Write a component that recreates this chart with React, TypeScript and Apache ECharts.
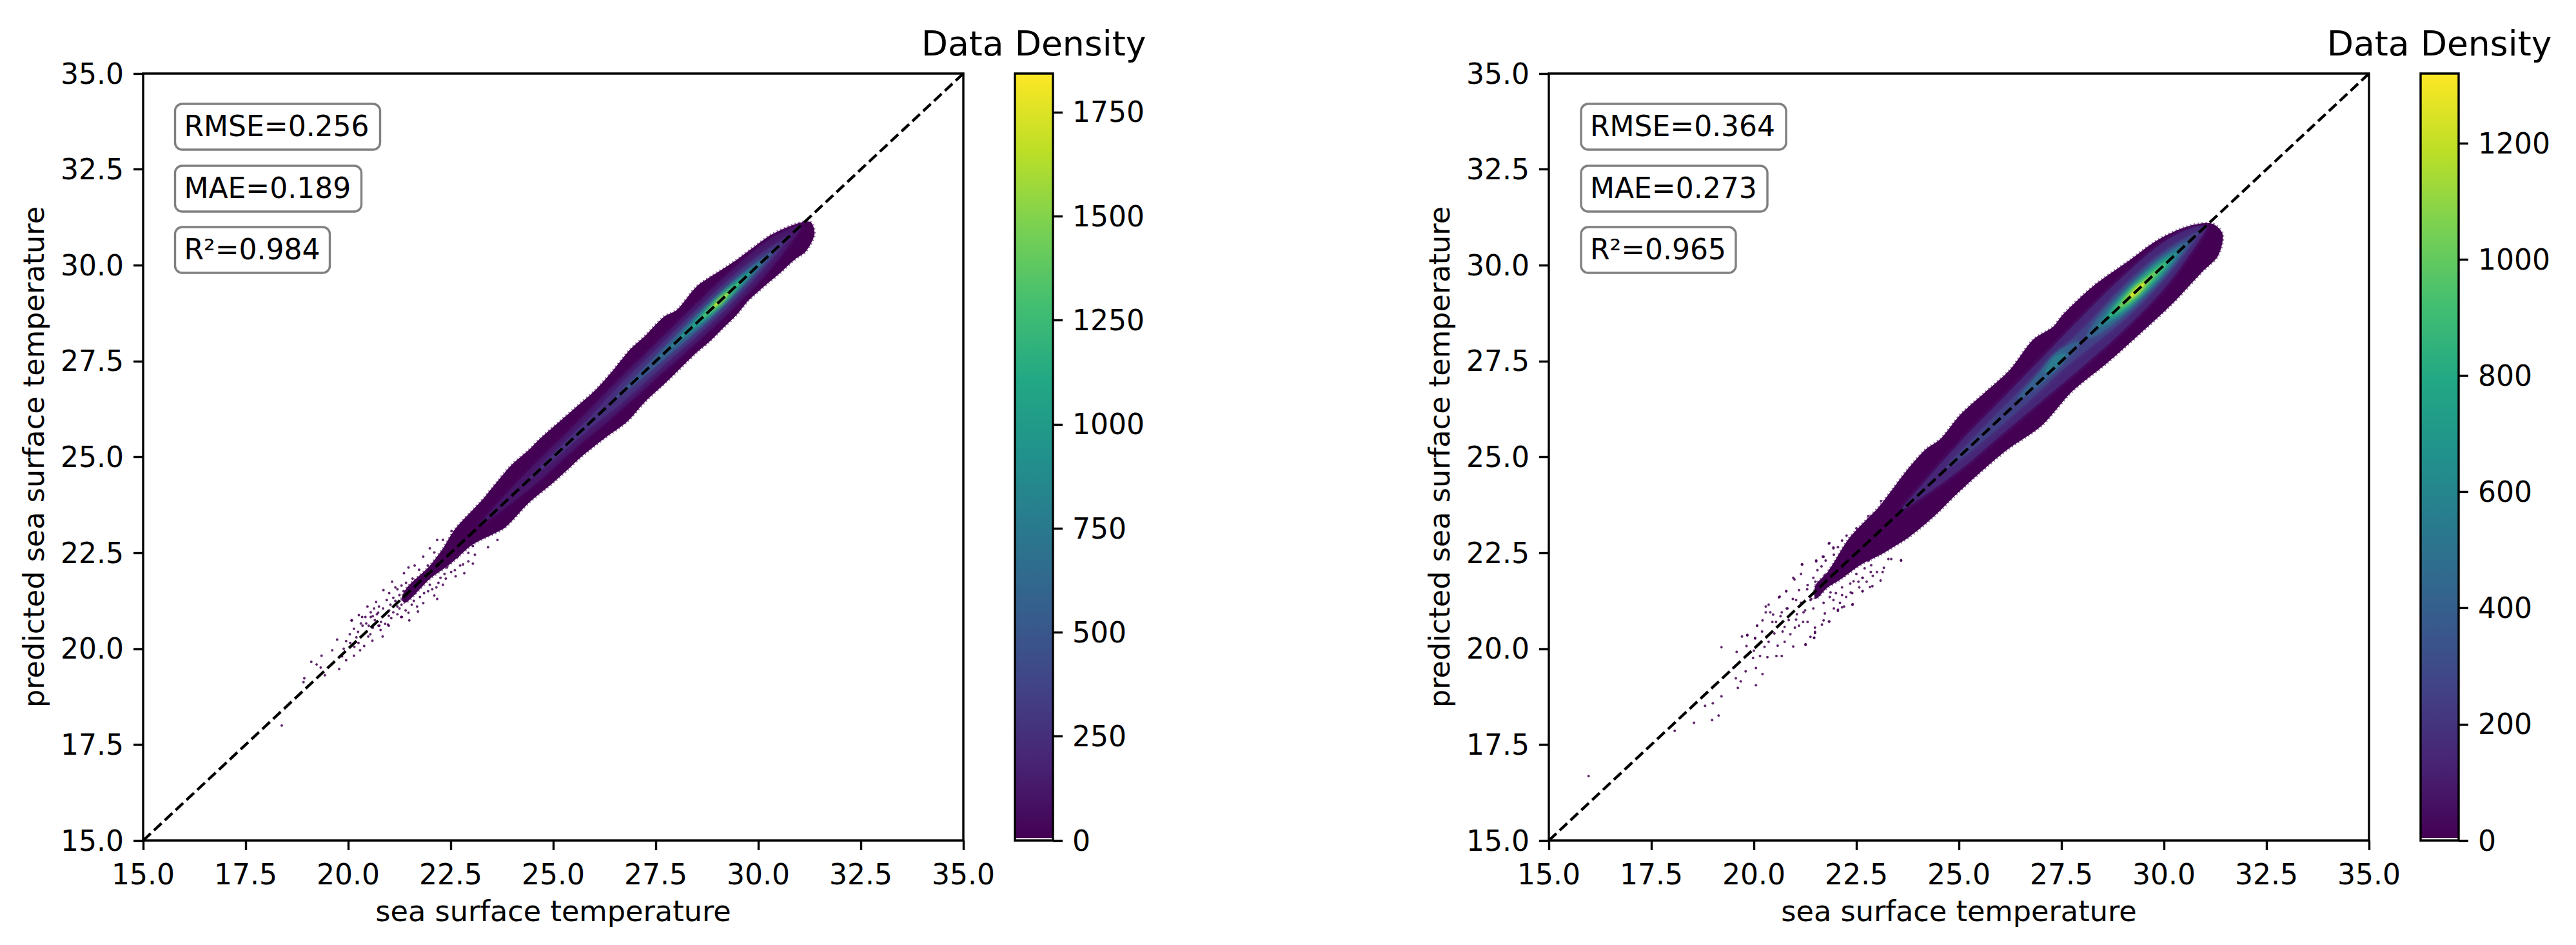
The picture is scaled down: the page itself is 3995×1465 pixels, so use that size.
import React, { useEffect, useRef } from "react";
import * as echarts from "echarts";

const FONT = "DejaVu Sans";
const axisMin = 15;
const axisMax = 35;
const axisStep = 2.5;
const xName = "sea surface temperature";
const yName = "predicted sea surface temperature";
const cbarName = "Data Density";
const leftStats = ["RMSE=0.256", "MAE=0.189", "R²=0.984"];
const rightStats = ["RMSE=0.364", "MAE=0.273", "R²=0.965"];
const leftCbarTicks = [0, 250, 500, 750, 1000, 1250, 1500, 1750];
const rightCbarTicks = [0, 200, 400, 600, 800, 1000, 1200];
const leftCbarMax = 1843;
const rightCbarMax = 1320;
const viridis = ["#440154", "#482475", "#414487", "#355f8d", "#2a788e", "#21918c", "#22a884", "#44bf70", "#7ad151", "#bddf26", "#fde725"];
const diagonal = [[15, 15], [35, 35]];

// outline of the region holding any data, left panel [x, y]
const leftEnvelope = [[21.3,21.3],[21.45,21.62],[21.95,22.12],[22.3,22.6],[22.62,23.14],[23.25,23.86],[23.62,24.34],[23.98,24.79],[24.4,25.18],[24.72,25.52],[25.19,25.96],[25.5,26.25],[26.03,26.75],[26.45,27.25],[26.87,27.8],[27.23,28.15],[27.7,28.66],[28.02,28.84],[28.49,29.44],[28.91,29.75],[29.43,30.11],[29.96,30.53],[30.32,30.8],[30.9,31.07],[31.27,31.13],[31.37,30.81],[31.16,30.36],[30.9,30.16],[30.53,29.8],[30.22,29.52],[29.75,29.07],[29.49,28.73],[29.12,28.34],[28.8,28.0],[28.49,27.72],[27.85,27.05],[27.23,26.43],[26.81,25.93],[26.24,25.48],[25.71,25.03],[25.35,24.67],[25.03,24.36],[24.4,23.8],[23.98,23.32],[23.77,23.12],[23.04,22.72],[22.5,22.22],[21.99,21.82],[21.7,21.5],[21.4,21.2]];
const rightEnvelope = [[21.5,21.65],[21.8,22.0],[22.3,22.85],[22.73,23.35],[23.04,23.69],[23.36,24.13],[23.72,24.64],[24.19,25.2],[24.56,25.48],[25.03,26.1],[25.61,26.66],[26.24,27.27],[26.81,28.06],[27.29,28.39],[27.55,28.73],[28.28,29.46],[29.12,30.1],[29.85,30.66],[30.54,31.0],[31.16,31.09],[31.43,30.81],[31.32,30.25],[30.95,29.85],[30.17,28.96],[29.43,28.23],[28.6,27.44],[27.76,26.71],[27.02,25.82],[26.19,25.2],[25.45,24.53],[24.93,24.02],[24.4,23.46],[23.77,22.9],[23.35,22.62],[23.09,22.45],[22.62,22.2],[22.1,21.8],[21.8,21.6],[21.5,21.3]];

// density contours: level, then rows of [x, lower y, upper y]
const leftLevels = [120, 250, 500, 750, 1000, 1250, 1500, 1750];
const leftContours = [
  [[23.2,23.2,23.25],[24.5,24.25,24.75],[25.5,25.2,25.8],[26.5,26.1,26.9],[27.5,27.05,27.95],[28.5,28.0,29.0],[29.5,29.0,30.0],[30.3,29.92,30.68],[30.9,30.75,31.0],[31.05,31.0,31.02]],
  [[24.4,24.4,24.42],[25,24.92,25.08],[26,25.85,26.15],[26.6,26.35,26.85],[27.5,27.2,27.8],[28.5,28.15,28.85],[29.3,28.95,29.65],[30,29.75,30.25],[30.6,30.52,30.68],[30.8,30.8,30.82]],
  [[26.5,26.5,26.52],[27,26.92,27.08],[27.7,27.55,27.85],[28.5,28.28,28.72],[29.2,28.98,29.42],[29.8,29.65,29.95],[30.3,30.25,30.35],[30.5,30.5,30.52]],
  [[27.5,27.5,27.52],[28.2,28.12,28.28],[28.8,28.66,28.94],[29.3,29.16,29.44],[29.8,29.72,29.88],[30.2,30.2,30.22]],
  [[28.1,28.1,28.12],[28.7,28.61,28.79],[29.1,29.0,29.2],[29.5,29.42,29.58],[29.9,29.9,29.92]],
  [[28.5,28.5,28.52],[28.85,28.78,28.92],[29.2,29.13,29.27],[29.6,29.6,29.62]],
  [[28.75,28.75,28.77],[29.05,29.0,29.1],[29.4,29.4,29.42]],
  [[28.95,28.95,28.97],[29.08,29.05,29.11],[29.2,29.2,29.22]],
];
const rightLevels = [150, 250, 400, 400, 550, 550, 700, 850, 1000, 1150, 1280];
const rightContours = [
  [[23.6,23.6,23.65],[25,24.65,25.35],[26,25.55,26.45],[27,26.45,27.55],[28,27.35,28.65],[29,28.3,29.7],[30,29.4,30.6],[30.7,30.4,30.98],[31.05,30.98,31.02]],
  [[24.7,24.7,24.75],[25.2,25.08,25.32],[26,25.8,26.2],[26.8,26.55,27.05],[27.5,27.25,27.8],[28.3,27.95,28.65],[29,28.55,29.45],[29.8,29.4,30.2],[30.5,30.3,30.7],[30.9,30.9,30.92]],
  [[26.45,26.5,26.55],[26.9,26.82,27.12],[27.35,27.25,27.7],[27.75,27.72,27.95],[27.95,27.98,28.02]],
  [[28.1,28.08,28.14],[28.4,28.2,28.65],[29,28.68,29.32],[29.8,29.5,30.1],[30.3,30.12,30.48],[30.65,30.65,30.67]],
  [[27.1,27.2,27.24],[27.35,27.33,27.62],[27.6,27.66,27.7]],
  [[28.3,28.3,28.32],[28.8,28.6,29.0],[29.3,29.03,29.57],[29.9,29.68,30.12],[30.5,30.5,30.52]],
  [[28.5,28.5,28.52],[29,28.82,29.18],[29.4,29.2,29.6],[29.9,29.75,30.05],[30.3,30.3,30.32]],
  [[28.65,28.65,28.67],[29.1,28.95,29.25],[29.4,29.25,29.55],[29.85,29.75,29.95],[30.2,30.2,30.22]],
  [[28.8,28.8,28.82],[29.2,29.09,29.31],[29.5,29.39,29.61],[30,30,30.02]],
  [[29,29,29.02],[29.3,29.22,29.38],[29.6,29.6,29.62]],
  [[29.2,29.2,29.22],[29.35,29.31,29.39],[29.5,29.5,29.52]],
];

// isolated points
const leftOutliers = [[18.38,18.0],[18.91,19.13],[18.93,19.23],[19.1,19.66],[19.23,19.59],[19.35,19.82],[19.43,19.31],[19.33,19.51],[19.61,19.96],[19.78,19.47],[19.89,20.0],[20.14,19.82],[20.29,19.96],[20.39,20.07],[20.04,20.38],[19.73,20.24],[20.09,20.74],[20.14,20.52],[20.59,20.21],[20.84,20.32],[20.99,20.6],[21.49,20.74],[20.99,20.86],[21.29,20.83],[20.24,20.44],[20.44,20.66],[20.34,20.83],[20.74,20.6],[20.54,20.38],[20.49,20.32],[20.08,20.74],[20.26,20.88],[20.47,21.1],[20.68,21.22],[20.86,21.53],[21.07,21.75],[21.36,21.97],[21.47,22.12],[21.62,22.17],[21.83,22.4],[21.99,22.62],[22.17,22.84],[21.7,20.97],[21.68,21.1],[22.17,21.3],[22.1,21.39],[21.83,21.19],[21.47,20.94],[21.31,20.83],[20.97,20.63],[20.79,20.49],[20.76,20.6],[22.83,21.97],[22.62,21.89],[22.31,21.67],[22.2,21.72],[23.04,22.22],[22.93,22.28],[23.64,22.84],[23.41,22.65],[23.09,22.45],[22.51,22.0],[22.38,21.83],[22.41,22.12],[22.73,22.17],[23.04,22.68],[23.25,22.9],[23.35,23.01],[23.51,23.01],[22.93,22.5],[22.67,22.4],[22.46,22.28],[21.2,21.55],[20.94,21.27],[20.63,21.05],[20.42,20.83],[20.31,20.66],[20.55,20.83],[20.73,20.94],[21.1,21.33],[21.41,21.72],[21.57,21.83],[21.73,22.06],[21.94,22.17],[22.1,22.51],[22.31,22.84],[22.52,23.07],[21.83,21.78],[21.99,21.67],[21.62,21.44],[21.36,21.27],[21.2,21.1],[20.89,20.88],[20.6,20.55],[20.65,20.75],[20.7,20.9],[20.8,20.7],[20.85,21.05],[20.9,20.65],[21.0,21.0],[21.03,21.15],[21.05,20.8],[21.1,20.95],[21.15,21.25],[21.2,20.9],[21.25,21.4],[21.25,21.05],[21.3,21.15],[21.35,21.5],[21.4,21.0],[21.45,21.3],[20.5,20.6],[20.55,20.95],[20.45,20.45],[20.35,20.6],[20.2,20.3],[20.25,20.15],[20.15,20.05],[20.05,20.15],[19.95,20.2],[19.85,19.8],[19.95,19.7],[20.6,20.85],[20.75,21.1],[21.0,21.45],[21.15,21.6],[21.3,21.65],[21.55,21.15],[21.6,21.25],[21.75,21.35],[21.85,21.45],[21.95,21.5],[22.05,21.55],[22.15,21.6],[22.25,21.85],[22.35,21.95],[22.6,22.05],[22.8,22.2]];
const rightOutliers = [[15.97,16.68],[19.21,20.04],[19.58,19.92],[19.71,20.32],[19.84,20.36],[19.82,20.07],[20.03,20.28],[19.98,19.76],[20.21,19.34],[20.05,19.05],[20.05,19.5],[19.8,19.41],[19.68,19.15],[19.61,18.98],[19.56,19.23],[19.5,19.5],[19.21,18.76],[19.0,18.58],[18.81,18.51],[19.14,18.26],[18.98,18.14],[18.54,18.07],[18.07,17.86],[20.68,19.81],[20.55,19.81],[20.33,19.78],[20.15,19.81],[20.58,20.08],[20.96,20.06],[21.26,20.1],[21.47,20.28],[21.38,20.31],[20.75,20.18],[20.36,20.18],[20.26,20.05],[20.08,20.6],[20.29,20.95],[20.36,21.15],[20.61,21.34],[20.79,21.5],[20.96,21.85],[21.17,22.2],[21.52,22.3],[21.7,22.4],[21.84,22.76],[21.94,22.64],[22.4,21.15],[22.15,21.08],[22.05,21.02],[21.84,20.71],[21.66,20.63],[21.49,20.44],[20.89,20.38],[21.1,20.6],[21.31,20.7],[21.03,20.76],[20.75,20.57],[20.54,20.7],[20.68,20.95],[20.47,20.89],[20.82,21.05],[21.21,20.95],[21.45,21.05],[21.73,20.92],[21.94,21.27],[21.03,21.27],[21.38,21.27],[21.59,21.4],[21.87,21.47],[22.15,21.4],[22.36,21.47],[22.57,21.6],[22.89,21.63],[22.65,21.5],[21.1,21.53],[21.31,21.66],[21.52,21.53],[21.45,21.85],[21.73,21.92],[22.01,21.85],[22.22,22.0],[22.43,21.76],[22.65,21.85],[23.0,22.0],[23.17,22.11],[23.28,22.34],[23.59,22.3],[22.86,22.18],[22.08,22.24],[22.5,22.37],[22.29,22.56],[22.72,22.5],[22.15,22.82],[22.5,23.14],[22.26,22.95],[22.79,23.46],[23.1,23.85],[21.83,22.74],[21.94,22.62],[21.68,22.4],[21.52,22.28],[21.18,22.2],[21.15,21.95],[20.99,21.81],[20.79,21.5],[20.63,21.36],[20.29,21.1],[20.21,20.74],[20.08,20.6],[19.84,20.35],[20.03,20.27],[23.59,22.31],[23.35,22.34],[23.14,22.0],[23.09,21.78],[22.83,21.61],[22.65,21.5],[22.41,21.16],[22.2,21.1],[22.05,20.99],[21.83,20.71],[21.7,20.74],[21.49,20.55],[21.49,20.41],[21.47,20.29],[21.26,20.12],[21.6,21.5],[21.7,21.2],[21.75,21.65],[21.85,21.35],[21.9,21.7],[21.95,21.05],[22.0,21.45],[22.05,22.2],[22.1,21.2],[22.15,21.6],[22.2,21.9],[22.25,21.35],[22.3,22.1],[22.35,21.7],[22.4,21.45],[22.45,22.35],[22.5,21.95],[22.55,21.75],[22.6,22.5],[22.65,21.85],[22.7,22.1],[22.75,21.75],[22.8,22.3],[22.85,22.0],[22.9,21.9],[21.5,21.75],[21.55,22.05],[21.65,22.15],[21.75,22.3],[21.85,22.05],[21.95,22.45],[22.05,22.65],[21.4,21.3],[21.3,21.55],[21.25,21.0],[21.2,20.7],[21.15,21.2],[21.05,20.9],[21.0,20.55],[20.95,21.3],[20.85,20.75],[20.8,21.05],[20.7,20.45],[20.65,20.85],[20.5,20.4],[20.45,20.7],[20.4,20.95],[20.2,20.45],[20.15,20.15],[20.0,19.95]];

function viridisColor(t: number) {
  const f = Math.max(0, Math.min(1, t)) * (viridis.length - 1);
  const i = Math.min(viridis.length - 2, Math.floor(f));
  const hex = (c: string, k: number) => parseInt(c.slice(k, k + 2), 16);
  const mix = (k: number) => Math.round(hex(viridis[i], k) + (hex(viridis[i + 1], k) - hex(viridis[i], k)) * (f - i));
  return `rgb(${mix(1)},${mix(3)},${mix(5)})`;
}

function rowsToPolygon(rows: number[][]) {
  return [...rows.map((r) => [r[0], r[2]]), ...[...rows].reverse().map((r) => [r[0], r[1]])];
}

function densitySeries(index: number, envelope: number[][], levels: number[], contours: number[][][], outliers: number[][], cmax: number) {
  const polys = contours.map(rowsToPolygon);
  return [
    {
      type: "custom", xAxisIndex: index, yAxisIndex: index, silent: true, clip: true, z: 2,
      data: [[0, 0]],
      renderItem: (_p: any, api: any) => ({
        type: "group",
        children: [
          { type: "polygon", shape: { points: envelope.map((p) => api.coord(p)), smooth: 0.3 }, style: { fill: viridis[0] } },
          { type: "polygon", shape: { points: envelope.map((p) => api.coord(p)), smooth: 0.3 }, style: { fill: "none", stroke: viridis[0], lineWidth: 4, opacity: 0.55, lineDash: [2, 4] } },
        ],
      }),
    },
    {
      type: "scatter", xAxisIndex: index, yAxisIndex: index, silent: true, z: 2, symbolSize: 4,
      itemStyle: { color: viridis[0], opacity: 0.85 }, data: outliers,
    },
    {
      type: "custom", xAxisIndex: index, yAxisIndex: index, silent: true, clip: true, z: 3,
      data: levels.map((lv, i) => [lv, i]),
      renderItem: (p: any, api: any) => {
        const i = p.dataIndex;
        const c = viridisColor(levels[i] / cmax);
        return {
          type: "polygon",
          shape: { points: polys[i].map((q) => api.coord(q)), smooth: 0.4 },
          style: { fill: c, shadowBlur: 7, shadowColor: c },
        };
      },
    },
    {
      type: "line", xAxisIndex: index, yAxisIndex: index, silent: true, z: 5, symbol: "none", data: diagonal,
      lineStyle: { color: "#000", width: 4.3, type: [16, 7] },
    },
  ];
}

function cbarSeries(index: number, cmax: number, floor: number) {
  const stops = viridis.map((c, i) => ({ offset: i / (viridis.length - 1), color: viridis[viridis.length - 1 - i] }));
  return [
    { type: "bar", xAxisIndex: index, yAxisIndex: index, silent: true, stack: "cb" + index, barWidth: "100%", itemStyle: { color: "#fff" }, data: [floor] },
    { type: "bar", xAxisIndex: index, yAxisIndex: index, silent: true, stack: "cb" + index, barWidth: "100%", itemStyle: { color: new echarts.graphic.LinearGradient(0, 0, 0, 1, stops) }, data: [cmax - floor] },
  ];
}

const LW = 3.4;
const txt = { color: "#000", fontFamily: FONT, fontSize: 44 };
const mainGrid = (left: number) => ({ left, top: 114, width: 1272, height: 1189, show: true, borderColor: "#000", borderWidth: LW, backgroundColor: "transparent" });
const cbarGrid = (left: number) => ({ left, top: 114, width: 59, height: 1189, show: false });
const valueAxis = (gridIndex: number, dim: string) => ({
  type: "value", gridIndex, min: axisMin, max: axisMax, interval: axisStep,
  splitLine: { show: false }, axisLine: { show: false },
  axisTick: { show: true, length: 15, lineStyle: { color: "#000", width: LW } },
  axisLabel: { ...txt, margin: 30, formatter: (v: number) => v.toFixed(1), showMinLabel: true, showMaxLabel: true },
  name: dim === "x" ? xName : yName, nameLocation: "middle", nameGap: dim === "x" ? 87 : 147,
  nameTextStyle: { ...txt, fontSize: 44.6 },
});
const cbarX = (gridIndex: number) => ({ type: "category", gridIndex, data: ["density"], show: false });
const cbarY = (gridIndex: number, cmax: number, ticks: number[]) => ({
  type: "value", gridIndex, position: "right", min: 0, max: cmax,
  splitLine: { show: false }, axisLine: { show: false },
  axisTick: { show: true, length: 15, customValues: ticks, lineStyle: { color: "#000", width: LW } },
  axisLabel: { ...txt, margin: 30, customValues: ticks, formatter: (v: number) => String(v) },
});
const statBox = (x: number, y: number, w: number, t: string) => ({
  type: "group", x, y, z: 20,
  children: [
    { type: "rect", shape: { x: 0, y: 0, width: w, height: 71, r: 11 }, style: { fill: "#fff", stroke: "#808080", lineWidth: 3.4 } },
    { type: "text", x: 14, y: 34, style: { text: t, fill: "#000", font: `44px "${FONT}"`, textVerticalAlign: "middle" } },
  ],
});
const frame = (x: number) => ({ type: "rect", z: 30, silent: true, shape: { x, y: 114, width: 59, height: 1189 }, style: { fill: "none", stroke: "#000", lineWidth: LW } });

export default function App() {
  const ref = useRef<HTMLDivElement>(null);
  useEffect(() => {
    const chart = echarts.init(ref.current!, undefined, { renderer: "svg" });
    chart.setOption({
      animation: false,
      backgroundColor: "#fff",
      title: [1598, 3778].map((left) => ({
        text: cbarName, left, top: 35, textAlign: "center",
        textStyle: { color: "#000", fontFamily: FONT, fontSize: 53.6, fontWeight: "normal" },
      })),
      grid: [mainGrid(222), mainGrid(2402), cbarGrid(1574), cbarGrid(3754)],
      xAxis: [valueAxis(0, "x"), valueAxis(1, "x"), cbarX(2), cbarX(3)],
      yAxis: [valueAxis(0, "y"), valueAxis(1, "y"), cbarY(2, leftCbarMax, leftCbarTicks), cbarY(3, rightCbarMax, rightCbarTicks)],
      series: [
        ...densitySeries(0, leftEnvelope, leftLevels, leftContours, leftOutliers, leftCbarMax),
        ...densitySeries(1, rightEnvelope, rightLevels, rightContours, rightOutliers, rightCbarMax),
        ...cbarSeries(2, leftCbarMax, 6),
        ...cbarSeries(3, rightCbarMax, 4.4),
      ],
      graphic: [
        statBox(271.5, 161, 318, leftStats[0]),
        statBox(271.5, 257, 289, leftStats[1]),
        statBox(271.5, 352, 240, leftStats[2]),
        statBox(2452, 161, 318, rightStats[0]),
        statBox(2452, 257, 289, rightStats[1]),
        statBox(2452, 352, 240, rightStats[2]),
        frame(1574),
        frame(3754),
      ],
    });
    return () => chart.dispose();
  }, []);
  return <div ref={ref} style={{ position: "absolute", left: 0, top: 0, width: 3995, height: 1465 }} />;
}
